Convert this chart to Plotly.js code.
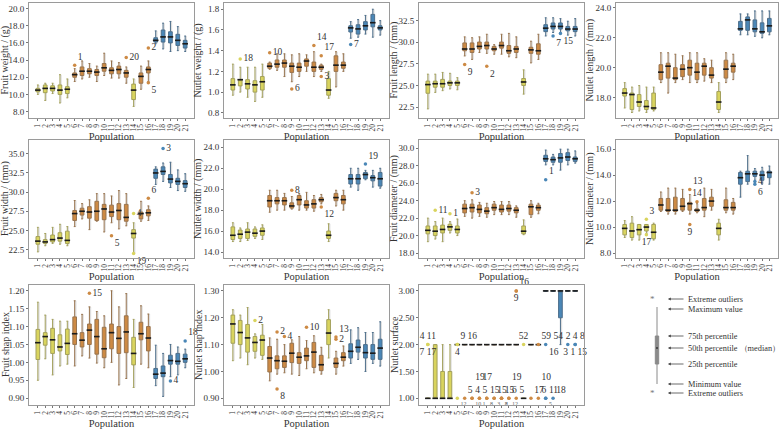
<!DOCTYPE html>
<html><head><meta charset="utf-8">
<script src="https://cdn.plot.ly/plotly-3.0.1.min.js"></script>
<style>html,body{margin:0;padding:0;background:#fff}#chart{width:781px;height:429px}</style>
</head><body><div id="chart"></div><script>
const populations = ['1','2','3','4','5','6','7','8','9','10','11','12','13','14','15','16','17','18','19','20','21'];
const yellowGroup = ['1','2','3','4','5','14'];
const orangeGroup = ['6','7','8','9','10','11','12','13','15','16'];
const blueGroup = ['17','18','19','20','21'];

// rows: [minimum, 25th, median, 75th, maximum] per population 1..21
const fruitWeight = [[10.0,10.3,10.5,10.7,11.1],[9.3,10.2,10.7,11.1,11.3],[10.1,10.4,10.7,11.0,11.3],[9.0,10.0,10.5,11.1,12.3],[9.6,10.1,10.6,10.9,11.8],[11.5,12.0,12.3,12.5,13.0],[11.8,12.2,12.7,13.2,13.9],[12.0,12.4,12.7,13.0,13.6],[11.5,12.2,12.6,12.9,13.3],[12.2,12.7,13.1,13.6,14.8],[11.9,12.4,12.8,13.1,13.9],[11.9,12.4,12.9,13.3,13.7],[11.3,12.0,12.5,12.8,13.2],[8.6,9.4,10.5,11.2,11.8],[10.6,11.3,12.1,12.5,13.3],[11.5,12.5,12.9,13.2,13.9],[15.9,16.1,16.3,16.6,17.4],[15.3,16.1,16.7,17.5,18.3],[15.0,16.0,16.7,17.3,18.5],[15.1,15.7,16.3,17.0,17.9],[15.0,15.4,15.9,16.3,16.8]];
const fruitWeightOut = [['6',13.4,'1'],['13',14.3,'20'],['16',15.4,'2'],['16',11.35,'5']];

const nutletWeight = [[0.97,1.02,1.07,1.13,1.27],[1.0,1.06,1.12,1.12,1.24],[0.95,1.03,1.08,1.12,1.24],[0.91,1.0,1.07,1.11,1.24],[0.95,1.02,1.1,1.15,1.27],[1.22,1.23,1.25,1.28,1.29],[1.21,1.24,1.27,1.31,1.37],[1.15,1.24,1.28,1.31,1.37],[1.1,1.19,1.25,1.28,1.36],[1.15,1.2,1.24,1.28,1.37],[1.2,1.25,1.3,1.32,1.36],[1.15,1.2,1.24,1.29,1.39],[1.2,1.22,1.24,1.26,1.27],[0.94,0.97,1.02,1.13,1.2],[1.05,1.2,1.26,1.35,1.39],[1.2,1.23,1.26,1.29,1.37],[1.52,1.58,1.62,1.64,1.68],[1.53,1.56,1.61,1.65,1.7],[1.56,1.6,1.64,1.68,1.74],[1.53,1.63,1.67,1.75,1.8],[1.55,1.6,1.62,1.64,1.69]];
const nutletWeightOut = [['2',1.32,'18'],['6',1.38,'10'],['9',1.03,'6'],['12',1.45,'14'],['13',1.35,'17'],['13',1.15,'3'],['17',1.46,'7']];

const fruitLength = [[22.3,24.1,25.1,25.5,26.3],[24.2,24.8,25.2,25.5,26.3],[24.4,24.8,25.2,25.7,26.5],[24.6,25.0,25.3,25.5,26.4],[24.5,25.0,25.3,25.5,25.9],[28.4,29.0,29.2,29.9,30.6],[28.0,28.8,29.2,29.9,30.5],[28.8,29.2,29.5,30.0,30.6],[28.7,29.2,29.6,30.0,30.9],[28.6,29.0,29.2,29.5,29.7],[28.6,29.3,29.6,30.0,30.9],[28.3,28.7,29.0,29.6,31.0],[28.2,28.8,29.2,29.5,30.6],[24.0,25.0,25.4,25.8,26.8],[27.6,28.7,29.1,29.4,30.1],[28.0,28.6,29.0,29.8,30.9],[30.7,31.2,31.6,32.0,32.8],[31.1,31.5,31.8,32.2,32.8],[31.1,31.5,31.8,32.2,32.7],[30.8,31.3,31.5,31.8,32.4],[30.7,31.2,31.5,31.8,32.7]];
const fruitLengthOut = [['6',27.4,'9'],['9',27.2,'2'],['18',30.7,'7'],['19',31.0,'15']];

const nutletLength = [[17.3,18.1,18.3,18.6,19.0],[17.0,17.2,18.2,18.3,18.7],[17.1,17.4,17.7,18.2,18.8],[17.0,17.2,17.4,17.8,18.7],[17.1,17.2,17.3,18.3,18.7],[19.0,19.2,19.7,20.2,21.0],[18.3,19.3,20.1,20.3,21.0],[19.0,19.2,19.3,20.0,20.9],[19.2,19.4,19.9,20.2,20.8],[19.0,19.5,20.0,20.5,21.0],[19.0,19.2,19.7,20.3,21.0],[19.1,19.5,20.1,20.3,20.6],[19.0,19.3,19.5,20.0,20.5],[17.0,17.2,17.7,18.4,19.0],[19.0,19.3,19.9,20.5,21.0],[19.2,19.7,20.1,20.3,20.9],[22.2,22.5,22.6,23.1,23.6],[22.2,22.5,23.2,23.4,23.6],[22.1,22.4,22.6,23.2,23.8],[22.0,22.3,22.4,23.0,23.8],[22.2,22.4,22.8,23.3,23.8]];
const nutletLengthOut = [];

const fruitWidth = [[22.2,23.2,23.6,24.2,25.4],[23.0,23.3,23.5,23.8,24.6],[23.3,23.5,23.8,24.4,25.4],[23.2,23.6,24.0,24.7,25.8],[23.0,23.3,23.7,24.9,25.5],[25.5,26.3,27.2,27.6,28.9],[26.5,27.0,27.5,27.9,28.5],[25.1,26.6,27.4,28.1,29.0],[26.2,26.3,27.5,28.8,29.8],[24.8,26.4,27.8,28.4,29.8],[26.0,26.8,27.4,28.3,29.5],[25.2,26.4,27.6,28.5,30.2],[25.6,26.2,26.7,28.4,29.8],[22.0,24.0,24.6,25.1,26.0],[26.2,26.5,27.2,27.4,28.8],[26.3,26.9,27.3,27.7,28.2],[31.0,31.8,32.5,33.0,33.3],[31.4,32.3,32.7,33.3,33.8],[30.6,31.2,31.7,32.3,33.9],[30.2,31.0,31.4,31.8,32.9],[30.1,30.6,31.1,31.5,32.4]];
const fruitWidthOut = [['18',35.7,'3'],['14',27.2,'4'],['16',29.2,'6'],['11',24.3,'5'],['14',22.0,'19']];

const nutletWidth = [[15.0,15.2,15.6,16.4,16.8],[15.0,15.3,15.7,16.1,16.3],[15.1,15.3,15.9,16.2,16.8],[15.3,15.5,15.8,16.2,16.4],[15.2,15.6,16.0,16.3,16.6],[17.8,18.3,18.9,19.4,19.9],[18.0,18.6,18.9,19.2,19.9],[18.0,18.5,18.9,19.2,19.6],[18.1,18.2,18.4,18.7,19.3],[18.0,18.5,19.0,19.4,19.6],[18.0,18.2,18.5,18.9,19.7],[17.9,18.2,18.6,19.0,19.4],[18.6,18.8,19.0,19.2,19.5],[15.0,15.3,15.6,16.0,16.7],[18.4,18.9,19.2,19.6,19.9],[18.0,18.6,19.0,19.4,19.9],[20.2,20.5,21.0,21.4,22.0],[19.9,20.5,21.0,21.4,22.0],[20.9,21.0,21.4,21.6,21.8],[20.2,20.8,21.1,21.3,21.8],[20.1,20.3,21.0,21.6,22.0]];
const nutletWidthOut = [['9',19.9,'8'],['13',18.3,'12'],['19',22.4,'19']];

const fruitDiameter = [[19.3,20.2,20.6,21.1,22.0],[19.6,20.0,20.5,21.1,21.6],[19.3,20.3,20.7,21.2,22.0],[20.3,20.6,21.0,21.3,21.6],[20.0,20.3,20.7,21.1,21.9],[22.2,22.6,23.1,23.6,24.0],[22.0,22.7,23.2,23.6,24.1],[22.2,22.6,23.0,23.5,23.8],[22.1,22.5,22.8,23.2,23.7],[22.4,22.9,23.2,23.6,23.9],[22.4,22.7,23.0,23.5,23.9],[22.4,22.8,23.1,23.5,23.9],[22.1,22.6,22.9,23.2,23.4],[20.1,20.2,20.5,21.1,21.8],[22.1,22.4,23.3,23.6,24.0],[22.5,22.9,23.2,23.5,23.7],[28.1,28.5,28.8,29.2,29.8],[28.1,28.4,28.7,29.0,29.3],[27.5,28.4,28.9,29.4,29.9],[28.1,28.6,29.0,29.5,29.9],[28.3,28.5,28.8,29.0,29.7]];
const fruitDiameterOut = [['2',22.9,'11'],['4',22.5,'1'],['7',24.9,'3'],['17',26.4,'1']];

const nutletDiameter = [[9.2,9.4,9.9,10.2,10.5],[9.0,9.2,9.7,10.3,10.8],[9.0,9.4,9.8,10.2,10.2],[9.5,9.7,10.0,10.2,10.2],[9.0,9.1,9.6,10.2,10.3],[11.2,11.3,11.7,12.2,12.7],[11.0,11.2,11.3,12.2,13.0],[11.0,11.2,11.3,12.3,13.0],[11.2,11.3,11.6,12.2,12.9],[11.0,11.3,11.8,11.9,12.5],[11.1,11.2,11.3,11.4,11.8],[10.8,11.3,11.5,12.2,13.0],[11.3,11.6,12.0,12.3,12.9],[9.0,9.4,9.9,10.3,10.6],[11.1,11.3,11.5,12.1,13.0],[11.0,11.3,11.5,11.9,12.2],[12.3,13.3,13.8,14.2,14.3],[13.3,13.5,14.1,14.3,15.5],[13.6,13.9,14.1,14.3,14.5],[13.3,13.6,14.0,14.3,14.6],[13.3,13.8,14.2,14.3,14.7]];
const nutletDiameterOut = [['4',10.6,'3'],['4',9.4,'17'],['10',12.9,'13'],['10',10.2,'9'],['11',11.95,'14'],['19',13.5,'4'],['19',13.3,'6']];

const fruitShape = [[0.95,1.008,1.055,1.092,1.168],[1.01,1.048,1.072,1.083,1.132],[0.965,1.025,1.063,1.095,1.12],[0.99,1.032,1.043,1.077,1.115],[0.995,1.022,1.053,1.093,1.115],[0.99,1.05,1.08,1.127,1.172],[1.018,1.043,1.062,1.083,1.134],[1.012,1.05,1.09,1.107,1.155],[0.998,1.023,1.072,1.12,1.142],[0.985,1.013,1.038,1.098,1.13],[1.0,1.038,1.083,1.107,1.2],[0.937,1.025,1.067,1.1,1.155],[0.955,1.027,1.085,1.13,1.192],[0.93,0.993,1.025,1.07,1.12],[0.995,1.063,1.08,1.112,1.158],[0.985,1.032,1.068,1.1,1.135],[0.935,0.955,0.967,0.983,1.048],[0.905,0.96,0.97,0.99,1.025],[0.96,0.995,1.005,1.02,1.05],[0.965,0.995,1.003,1.025,1.043],[0.985,1.0,1.01,1.023,1.037]];
const fruitShapeOut = [['8',1.193,'15'],['19',0.948,'4'],['21',1.06,'18']];

const nutletShape = [[1.04,1.105,1.177,1.21,1.23],[1.05,1.1,1.145,1.19,1.21],[1.025,1.072,1.125,1.175,1.238],[1.05,1.075,1.108,1.13,1.14],[1.045,1.06,1.117,1.135,1.175],[0.965,0.998,1.05,1.093,1.125],[0.99,1.01,1.04,1.058,1.12],[0.995,1.015,1.038,1.058,1.1],[0.99,1.033,1.068,1.105,1.118],[0.985,1.03,1.053,1.07,1.13],[1.01,1.04,1.058,1.087,1.115],[0.995,1.015,1.072,1.108,1.133],[0.99,1.003,1.025,1.06,1.09],[1.05,1.1,1.143,1.193,1.23],[0.99,1.015,1.03,1.05,1.075],[1.02,1.04,1.053,1.07,1.095],[1.03,1.05,1.075,1.103,1.155],[1.045,1.072,1.09,1.117,1.163],[1.0,1.05,1.07,1.1,1.145],[1.03,1.045,1.068,1.1,1.145],[1.02,1.045,1.087,1.12,1.185]];
const nutletShapeOut = [['4',1.19,'2'],['7',1.147,'2'],['7',0.935,'8'],['8',1.13,'4'],['11',1.165,'10'],['15',1.128,'13'],['15',1.12,'2']];

const nutletSurface = [[1,1,1,1,1],[1,1,1,2,2],[1,1,1,1.5,2],[1,1,1,1.5,2],[2,2,2,2,2],[2,2,2,2,2],[2,2,2,2,2],[2,2,2,2,2],[2,2,2,2,2],[2,2,2,2,2],[2,2,2,2,2],[2,2,2,2,2],[2,2,2,2,2],[1,1,1,1,1],[2,2,2,2,2],[2,2,2,2,2],[3,3,3,3,3],[3,3,3,3,3],[2,2.5,3,3,3],[3,3,3,3,3],[3,3,3,3,3]];
const nutletSurfaceOut = [['1',2,'4 11'],['1',2,'7 17'],['5',2,'9 16'],['5',2,'4'],['6',1,'5'],['7',1,'19<br>4'],['8',1,'17<br>5'],['9',1,'15'],['10',1,'15'],['11',1,'15'],['12',1,'19<br>6'],['13',1,'5'],['13',3,'16'],['13',3,'9'],['14',2,'52'],['15',1,'17'],['16',1,'10<br>6'],['17',1,'11'],['16',2,'59 54'],['17',2,'16'],['18',1,'18'],['20',2,''],['21',2,'2 4 8'],['21',2,'3 1 15']];
const nutletSurfaceMinor = [['5',1,'12'],['7',1,'10'],['8',1,'1'],['9',1,'8'],['10',1,'3'],['11',1,'8'],['11',1,'2'],['12',1,'12'],['17',1,'5']];

// label placements (style, not data)
const posFruitWeight = ['top right','middle right','middle right','bottom right'];
const posNutletWeight = ['middle right','middle right','middle right','top right','top right','middle right','middle right'];
const posFruitLength = ['bottom right','bottom right','bottom right','bottom right'];
const posFruitWidth = ['middle right','middle right','top right','bottom right','bottom right'];
const posNutletWidth = ['middle right','bottom right','top right'];
const posFruitDiameter = ['middle right','middle right','middle right','top right'];
const posNutletDiameter = ['top right','bottom center','top right','bottom center','top center','middle right','bottom right'];
const posFruitShape = ['middle right','middle right','top right'];
const posNutletShape = ['middle right','middle right','bottom right','middle right','middle right','top right','middle right'];
const posNutletSurface = ['top center','bottom center','top right','bottom center','top right','top right','top right','top right','top right','top right','top right','top right','top right','bottom center','top center','top right','top right','top right','top right','bottom right','top right','top center','top center','bottom center'];

const FONT = "'Liberation Serif', 'Times New Roman', serif";
const W = 781, H = 429;
const colsPx = [[29,194],[224,389],[419,584],[616,778]];
const rowsPx = [[3,118],[140,258],[285,405]];
const yTitleX = [5,198,394,590];
const groups = [
  {pops: yellowGroup, fill:'#d9d45e', line:'#a3a05c'},
  {pops: orangeGroup, fill:'#cd8a44', line:'#98744f'},
  {pops: blueGroup, fill:'#4a87b7', line:'#4d6e8a'}
];

const panels = [
  {stats: fruitWeight, out: fruitWeightOut, pos: posFruitWeight, title:'Fruit weight / (g)', range:[7.25,20.65], tick0:8, dtick:2, fmt:'.1f'},
  {stats: nutletWeight, out: nutletWeightOut, pos: posNutletWeight, title:'Nutlet weight / (g)', range:[0.75,1.86], tick0:0.8, dtick:0.2, fmt:'.1f'},
  {stats: fruitLength, out: fruitLengthOut, pos: posFruitLength, title:'Fruit length / (mm)', range:[21.25,34.5], tick0:22.5, dtick:2.5, fmt:'.1f'},
  {stats: nutletLength, out: nutletLengthOut, pos: [], title:'Nutlet length / (mm)', range:[16.63,24.33], tick0:18, dtick:2, fmt:'.1f'},
  {stats: fruitWidth, out: fruitWidthOut, pos: posFruitWidth, title:'Fruit width / (mm)', range:[21.4,36.8], tick0:22.5, dtick:2.5, fmt:'.1f'},
  {stats: nutletWidth, out: nutletWidthOut, pos: posNutletWidth, title:'Nutlet width / (mm)', range:[13.43,24.7], tick0:14, dtick:2, fmt:'.1f'},
  {stats: fruitDiameter, out: fruitDiameterOut, pos: posFruitDiameter, title:'Fruit diameter / (mm)', range:[17.43,30.95], tick0:18, dtick:2, fmt:'.1f'},
  {stats: nutletDiameter, out: nutletDiameterOut, pos: posNutletDiameter, title:'Nutlet diameter / (mm)', range:[7.62,16.7], tick0:8, dtick:2, fmt:'.1f'},
  {stats: fruitShape, out: fruitShapeOut, pos: posFruitShape, title:'Fruit shap index', range:[0.881,1.216], tick0:0.9, dtick:0.05, fmt:'.2f'},
  {stats: nutletShape, out: nutletShapeOut, pos: posNutletShape, title:'Nutlet shap index', range:[0.875,1.322], tick0:0.9, dtick:0.1, fmt:'.2f'},
  {stats: nutletSurface, out: nutletSurfaceOut, pos: posNutletSurface, minor: nutletSurfaceMinor, title:'Nutlet surface', range:[0.876,3.11], tick0:1, dtick:0.5, fmt:'.2f'}
];

const traces = [];
const layout = {
  width: W, height: H, margin:{l:0,r:0,t:0,b:0}, showlegend:false,
  paper_bgcolor:'#fff', plot_bgcolor:'#fff', boxmode:'overlay', barmode:'overlay',
  font:{family:FONT, color:'#333', size:10},
  shapes:[], annotations:[]
};

function groupColor(p){ for (const g of groups) if (g.pops.includes(p)) return g; return groups[0]; }

panels.forEach((pn, k) => {
  const r = Math.floor(k/4), c = k % 4;
  const xa = 'x' + (k ? k+1 : ''), ya = 'y' + (k ? k+1 : '');
  // faint grey range band beside each whisker
  traces.push({
    type:'bar', xaxis:xa, yaxis:ya, x: populations,
    base: pn.stats.map(s=>s[0]), y: pn.stats.map(s=>s[4]-s[0]),
    width:0.22, offset:0.02, marker:{color:'rgba(160,160,160,0.35)', line:{width:0}},
    hoverinfo:'skip'
  });
  groups.forEach(g => {
    const idx = populations.map((p,i)=>g.pops.includes(p)?i:-1).filter(i=>i>=0);
    traces.push({
      type:'box', xaxis:xa, yaxis:ya,
      x: idx.map(i=>populations[i]),
      lowerfence: idx.map(i=>pn.stats[i][0]),
      q1: idx.map(i=>pn.stats[i][1]),
      median: idx.map(i=>pn.stats[i][2]),
      q3: idx.map(i=>pn.stats[i][3]),
      upperfence: idx.map(i=>pn.stats[i][4]),
      fillcolor: g.fill, line:{color:g.line, width:1}, width:0.5,
      boxpoints:false, hoverinfo:'skip'
    });
  });
  traces.push({
    type:'scatter', mode:'markers', xaxis:xa, yaxis:ya,
    x: populations, y: pn.stats.map(s=>s[2]),
    marker:{symbol:'line-ew-open', size:4, color:'#1b1b1b', line:{width:1.6, color:'#1b1b1b'}},
    hoverinfo:'skip'
  });
  if (pn.out.length) {
    traces.push({
      type:'scatter', mode:'markers+text', xaxis:xa, yaxis:ya,
      x: pn.out.map(o=>o[0]), y: pn.out.map(o=>o[1]), text: pn.out.map(o=>o[2]),
      textposition: pn.out.map((o,i)=>pn.pos[i]||'middle right'),
      textfont:{family:FONT, size:9.5, color:'#333'},
      marker:{size:3.5, color: pn.out.map(o=>groupColor(o[0]).fill)},
      hoverinfo:'skip', cliponaxis:false
    });
  }
  if (pn.minor) {
    traces.push({
      type:'scatter', mode:'markers+text', xaxis:xa, yaxis:ya,
      x: pn.minor.map(o=>o[0]), y: pn.minor.map(o=>o[1]), text: pn.minor.map(o=>o[2]),
      textposition:'bottom right', textfont:{family:FONT, size:6, color:'#666'},
      marker:{size:3.5, color: pn.minor.map(o=>groupColor(o[0]).fill)},
      hoverinfo:'skip', cliponaxis:false
    });
  }
  const xd = [colsPx[c][0]/W, colsPx[c][1]/W];
  const yd = [1 - rowsPx[r][1]/H, 1 - rowsPx[r][0]/H];
  layout['xaxis' + (k ? k+1 : '')] = {
    domain: xd, anchor: ya, type:'category', categoryorder:'array', categoryarray: populations,
    tickmode:'array', tickvals: populations, ticktext: populations,
    range:[-1.2, 21.2], tickangle:-90, tickfont:{size:7.5, family:FONT, color:'#333'},
    showline:true, mirror:true, linecolor:'#9a9a9a', linewidth:1,
    ticks:'outside', ticklen:2, tickcolor:'#777', showgrid:false, zeroline:false,
    title:{text:'Population', font:{size:10.5, family:FONT, color:'#333'}, standoff:2}
  };
  layout['yaxis' + (k ? k+1 : '')] = {
    domain: yd, anchor: xa, range: pn.range, tick0: pn.tick0, dtick: pn.dtick, tickformat: pn.fmt,
    tickfont:{size:9, family:FONT, color:'#333'},
    showline:true, mirror:true, linecolor:'#9a9a9a', linewidth:1,
    ticks:'outside', ticklen:2, tickcolor:'#777', showgrid:false, zeroline:false
  };
  layout.annotations.push({xref:'paper', yref:'paper', x: yTitleX[c]/W, y: 1 - (rowsPx[r][0]+rowsPx[r][1])/2/H,
    text: pn.title, textangle:-90, showarrow:false, xanchor:'center', yanchor:'middle', borderpad:0,
    font:{family:FONT, size:10, color:'#333'}});
});

// explanatory key (bottom-right)
const px = x => x / W, py = y => 1 - y / H;
const keyX = 657;
layout.shapes.push({type:'line', xref:'paper', yref:'paper', x0:px(keyX), x1:px(keyX), y0:py(307), y1:py(384), line:{color:'#8a8a8a', width:1}});
layout.shapes.push({type:'rect', xref:'paper', yref:'paper', x0:px(keyX-1.7), x1:px(keyX+1.7), y0:py(364), y1:py(336), fillcolor:'#8a8a8a', line:{color:'#8a8a8a', width:1}});
layout.shapes.push({type:'line', xref:'paper', yref:'paper', x0:px(keyX-1), x1:px(keyX+1), y0:py(348), y1:py(348), line:{color:'#333', width:1.5}});
const keyItems = [[299,'Extreme outliers'],[309,'Maximum value'],[336,'75th percentile'],[348,'50th percentile （median）'],[364,'25th percentile'],[384,'Minimum value'],[393,'Extreme outliers']];
keyItems.forEach(([y,t]) => {
  layout.annotations.push({xref:'paper', yref:'paper', x:px(668), y:py(y), ax:17, ay:0, text:'', showarrow:true, arrowhead:2, arrowsize:0.7, arrowwidth:0.8, arrowcolor:'#444'});
  layout.annotations.push({xref:'paper', yref:'paper', x:px(686), y:py(y), xanchor:'left', yanchor:'middle', text:t, showarrow:false, font:{family:FONT, size:8.3, color:'#333'}});
});
[299,393].forEach(y => layout.annotations.push({xref:'paper', yref:'paper', x:px(keyX), y:py(y), text:'*', showarrow:false, font:{family:FONT, size:9, color:'#777'}, yanchor:'middle'}));

Plotly.newPlot('chart', traces, layout, {displayModeBar:false, staticPlot:true});
</script></body></html>
